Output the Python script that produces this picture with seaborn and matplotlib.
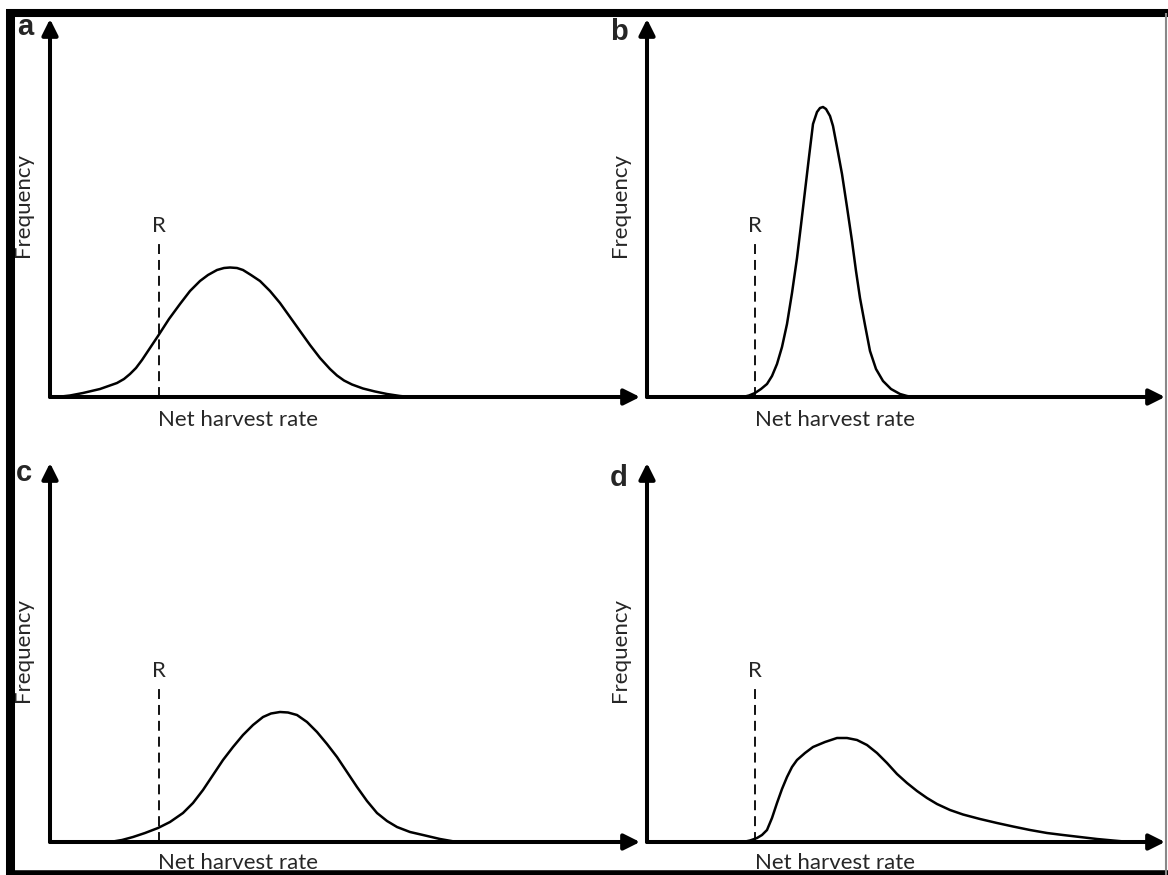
import numpy as np
import pandas as pd
import matplotlib.pyplot as plt
import seaborn as sns
from matplotlib.lines import Line2D

# curve values (x from y-axis, y above x-axis, in px)
a_x = [7, 20, 33, 50, 67, 74, 80, 86, 92, 100, 108, 119, 130, 140, 150, 158, 167,
       174, 180, 187, 193, 201, 210, 220, 230, 240, 250, 260, 270, 280, 287, 294,
       302, 313, 325, 337, 350, 360]
a_y = [0, 1.5, 4, 8, 14, 18, 23, 29, 37, 49, 61, 78, 93, 106, 116, 122, 127,
       129, 129.5, 129, 127, 122, 116, 106, 94, 80, 66, 52, 39, 28, 21.5, 16.5,
       12.5, 8.5, 5.5, 3, 1, 0]

b_x = [96, 102, 108, 114, 120, 125, 130, 135, 140, 145, 150, 154, 158, 162, 166,
       170, 173, 176, 179, 183, 186, 190, 195, 200, 205, 209, 213, 218, 223, 229,
       236, 244, 253, 260, 266]
b_y = [0, 1.5, 4, 8, 13, 21, 33, 50, 73, 104, 139, 172, 206, 240, 273,
       285, 289, 290, 288, 281, 271, 250, 223, 190, 156, 126, 99, 72, 46, 28,
       16, 8, 3, 1, 0]

c_x = [60, 72, 83, 95, 108, 120, 133, 143, 153, 163, 173, 183, 193, 203, 213, 221,
       230, 238, 247, 257, 267, 277, 287, 297, 307, 317, 327, 337, 347, 360, 373,
       390, 407]
c_y = [0, 2, 5, 9, 14, 20, 29, 39, 52, 67, 82, 95, 107, 117, 125, 128.5,
       130, 129.5, 127, 120, 110, 98, 85, 70, 55, 41, 29, 21, 15, 10, 7,
       3, 0]

d_x = [96, 103, 110, 115, 120, 125, 130, 135, 140, 145, 150, 158, 166, 178, 190,
       200, 210, 220, 230, 240, 250, 260, 270, 280, 290, 303, 316, 333, 350, 366,
       383, 400, 416, 433, 450, 466, 483]
d_y = [0, 1.5, 4, 7, 12, 24, 39, 53, 65, 75, 82, 89, 95, 100, 104,
       104, 102, 97, 89, 79, 68, 59, 51, 44, 38, 32, 27.5, 23, 19, 15.5,
       12, 9, 7, 5, 3, 1.5, 0]

# position of the R threshold and the top of its dashed line
r_x = {"a": 109, "b": 108, "c": 109, "d": 108}
r_top = 153

W, H = 1168, 875

sns.set_style("white")
plt.rcParams['font.family'] = ['Lato', 'DejaVu Sans']

fig = plt.figure(figsize=(W / 100, H / 100), dpi=100)


def fx(x):
    return x / W


def fy(y):
    return 1 - y / H


# panel frames: origin (x0, y0), arrow tips (xtip, ytip) in pixels
panels = {
    "a": (50, 397, 640, 19, a_x, a_y),
    "b": (647, 397, 1165, 19, b_x, b_y),
    "c": (50, 842, 640, 463, c_x, c_y),
    "d": (647, 842, 1165, 463, d_x, d_y),
}

for key, (x0, y0, xt, yt, xs, ys) in panels.items():
    ax = fig.add_axes([fx(x0), fy(y0), (xt - x0) / W, (y0 - yt) / H])
    ax.set_xlim(0, xt - x0)
    ax.set_ylim(0, y0 - yt)
    ax.axis("off")

    df = pd.DataFrame({"x": xs, "y": ys})
    sns.lineplot(data=df, x="x", y="y", ax=ax, color="black", lw=1.8, sort=False,
                 solid_joinstyle="round")

    ax.plot([r_x[key], r_x[key]], [0, r_top], color="black", lw=1.3,
            dashes=(5.5, 3.3))
    ax.text(r_x[key], r_top + 12, "R", ha="center", va="baseline", fontsize=16)

    # axes drawn as arrows
    arrow = dict(arrowstyle="-|>", lw=2.9, color="black", mutation_scale=24,
                 shrinkA=0, shrinkB=0)
    ax.annotate("", xy=(1, 0), xytext=(0, 0), xycoords="axes fraction",
                arrowprops=arrow, annotation_clip=False)
    ax.annotate("", xy=(0, 1), xytext=(0, 0), xycoords="axes fraction",
                arrowprops=arrow, annotation_clip=False)

# labels
for key, (lx, ly) in {"a": (25, 35), "b": (619, 40), "c": (24, 481), "d": (619, 486)}.items():
    fig.text(fx(lx), fy(ly), key, ha="center", va="baseline", fontsize=21,
             fontweight="bold", family="Liberation Sans")

for (fxx, fyy) in [(23, 205), (620, 205), (23, 650), (620, 650)]:
    fig.text(fx(fxx), fy(fyy), "Frequency", rotation=90, ha="center",
             va="center", fontsize=16)

for (nx, ny) in [(238, 426), (835, 426), (238, 869), (835, 869)]:
    fig.text(fx(nx), fy(ny), "Net harvest rate", ha="center", va="baseline",
             fontsize=16)

# outer frame
frame = dict(color="black", solid_capstyle="butt")
fig.add_artist(Line2D([fx(10), fx(10)], [fy(9), fy(875)], lw=6.5, **frame))
fig.add_artist(Line2D([fx(6), fx(1168)], [fy(13), fy(13)], lw=5.8, **frame))
fig.add_artist(Line2D([fx(6), fx(1168)], [fy(873), fy(873)], lw=4, **frame))
fig.add_artist(Line2D([fx(1166), fx(1166)], [fy(13), fy(875)], color="#888888",
                      lw=1.5, solid_capstyle="butt"))

fig.savefig("out.png", dpi=100)
